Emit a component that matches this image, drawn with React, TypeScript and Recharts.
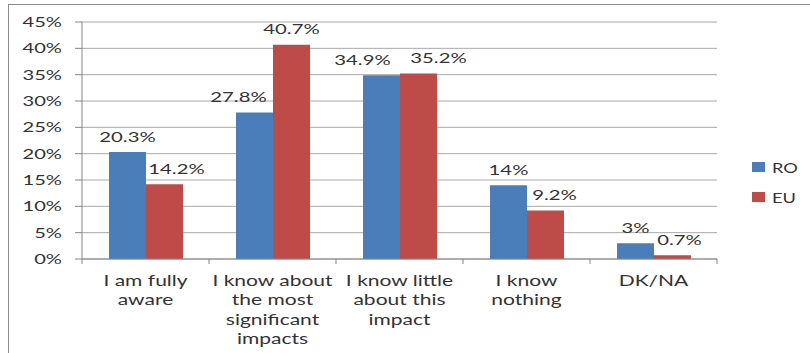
import React from "react";
import {
  BarChart,
  Bar,
  XAxis,
  YAxis,
  CartesianGrid,
  Legend,
  LabelList,
} from "recharts";

// ---- data ----
const categories = [
  "I am fully aware",
  "I know about the most significant impacts",
  "I know little about this impact",
  "I know nothing",
  "DK/NA",
];
const categoryLines = [
  ["I am fully", "aware"],
  ["I know about", "the most", "significant", "impacts"],
  ["I know little", "about this", "impact"],
  ["I know", "nothing"],
  ["DK/NA"],
];
const seriesNames = ["RO", "EU"];
const roValues = [20.3, 27.8, 34.9, 14, 3];
const euValues = [14.2, 40.7, 35.2, 9.2, 0.7];
const yTicks = [0, 5, 10, 15, 20, 25, 30, 35, 40, 45];

// horizontal nudges for the value labels (px)
const roLabelShift = [0, -16, -19, 0, 0];
const euLabelShift = [12, 0, 20, 9, 7];

const rows = categories.map((name, i) => ({
  name,
  RO: roValues[i],
  EU: euValues[i],
}));

// ---- layout / style ----
const W = 810;
const H = 353;
const PLOT_LEFT = 82;
const PLOT_RIGHT = 717;
const BAND = (PLOT_RIGHT - PLOT_LEFT) / categories.length;
const FONT = "Lato, 'Open Sans', sans-serif";
const TEXT = "#333333";
const AXIS = "#868686";
const GRID = "#a9a9a9";
const BLUE = "#4A7EBB";
const RED = "#BE4B48";
const SX = 1.45;

const Stretch = ({ x, y, children, anchor = "middle", size = 14, sx = SX }: any) => (
  <text
    x={0}
    y={0}
    transform={`translate(${x},${y}) scale(${sx},1)`}
    textAnchor={anchor}
    dominantBaseline="central"
    fontFamily={FONT}
    fontSize={size}
    fill={TEXT}
  >
    {children}
  </text>
);

const YTick = ({ x, y, payload }: any) => (
  <Stretch x={x} y={y} anchor="end" size={13} sx={1.55}>
    {`${payload.value}%`}
  </Stretch>
);

const XTick = ({ x, y, payload, index }: any) => {
  const lines = categoryLines[index] || [String(payload.value)];
  const left = x - BAND / 2;
  const right = x + BAND / 2;
  return (
    <g>
      <line x1={left} x2={left} y1={y} y2={y + 5} stroke={AXIS} />
      {index === categories.length - 1 && (
        <line x1={right} x2={right} y1={y} y2={y + 5} stroke={AXIS} />
      )}
      {lines.map((t: string, k: number) => (
        <Stretch key={k} x={x} y={y + 21 + k * 19.5} size={14.5}>
          {t}
        </Stretch>
      ))}
    </g>
  );
};

const makeValueLabel = (shift: number[]) => (props: any) => {
  const { x, y, width, value, index } = props;
  return (
    <Stretch x={x + width / 2 + shift[index]} y={y - 15.5} size={14}>
      {`${value}%`}
    </Stretch>
  );
};

const LegendBox = ({ payload }: any) => {
  const items = [...(payload || [])].sort(
    (a: any, b: any) => seriesNames.indexOf(a.value) - seriesNames.indexOf(b.value)
  );
  return (
    <div style={{ fontFamily: FONT, fontSize: 14, color: TEXT }}>
      {items.map((e: any, i: number) => (
        <div
          key={i}
          style={{ display: "flex", alignItems: "center", height: 30 }}
        >
          <span
            style={{
              display: "inline-block",
              width: 13,
              height: 10,
              background: e.color,
              marginRight: 7,
            }}
          />
          <span
            style={{
              display: "inline-block",
              transform: "scaleX(1.3)",
              transformOrigin: "left center",
            }}
          >
            {e.value}
          </span>
        </div>
      ))}
    </div>
  );
};

export default function App() {
  return (
    <div
      style={{
        position: "fixed",
        left: 0,
        top: 0,
        width: W,
        height: H,
        overflow: "hidden",
        background: "#fff",
      }}
    >
      <div
        style={{
          position: "absolute",
          left: 8,
          top: 4,
          width: 900,
          height: 500,
          border: "1px solid #8c8c8c",
        }}
      />
      <div style={{ position: "absolute", left: 0, top: 0 }}>
        <BarChart
          width={W}
          height={H}
          data={rows}
          margin={{ top: 22, right: W - PLOT_RIGHT, left: 0, bottom: 0 }}
          barGap={0}
          barCategoryGap={27}
        >
          <CartesianGrid vertical={false} stroke={GRID} />
          <XAxis
            dataKey="name"
            height={H - 22 - 237}
            interval={0}
            tickLine={false}
            tickSize={0}
            tickMargin={0}
            stroke={AXIS}
            tick={<XTick />}
          />
          <YAxis
            width={PLOT_LEFT}
            domain={[0, 45]}
            ticks={yTicks}
            interval={0}
            tickSize={7}
            tickMargin={13}
            stroke={AXIS}
            tick={<YTick />}
          />
          <Legend
            layout="horizontal"
            verticalAlign="middle"
            align="center"
            wrapperStyle={{ position: "absolute", left: 752, top: 152, width: 60 }}
            content={<LegendBox />}
          />
          <Bar dataKey="RO" fill={BLUE} isAnimationActive={false}>
            <LabelList dataKey="RO" content={makeValueLabel(roLabelShift)} />
          </Bar>
          <Bar dataKey="EU" fill={RED} isAnimationActive={false}>
            <LabelList dataKey="EU" content={makeValueLabel(euLabelShift)} />
          </Bar>
        </BarChart>
      </div>
    </div>
  );
}
